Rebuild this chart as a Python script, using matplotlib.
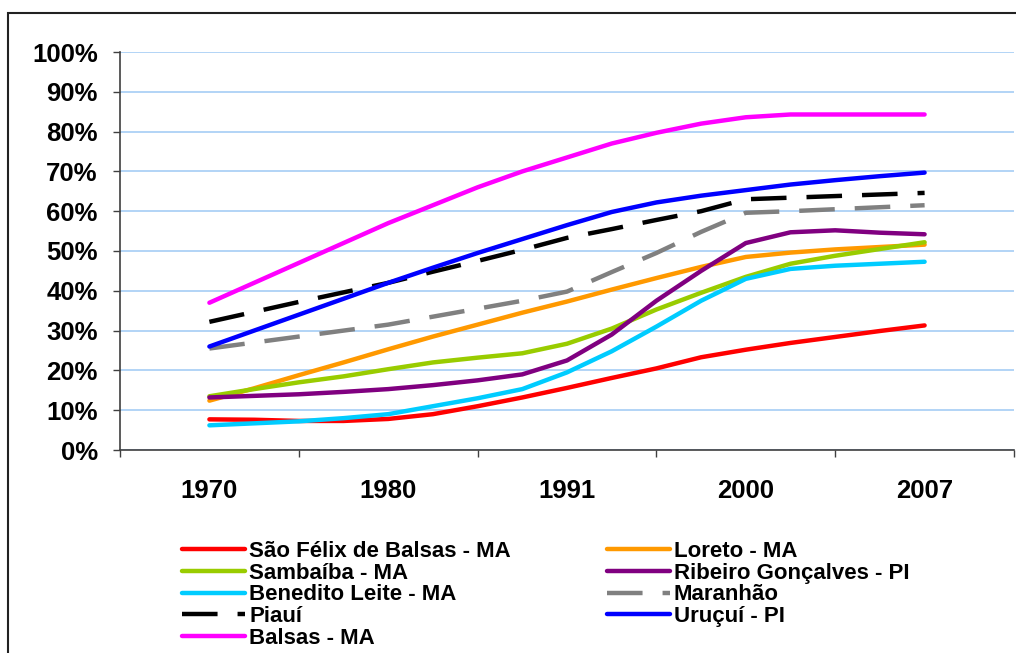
import matplotlib
matplotlib.use("Agg")
import matplotlib.pyplot as plt
import numpy as np
from matplotlib.patches import Rectangle

plt.rcParams["font.family"] = ["Liberation Sans", "DejaVu Sans"]
plt.rcParams["font.weight"] = "bold"

years = ["1970", "1980", "1991", "2000", "2007"]
# the curves are read at every quarter of a category step (17 readings per series)
steps = np.linspace(0, len(years) - 1, 17)

sao_felix = [7.7, 7.6, 7.3, 7.3, 7.8, 9.0, 11.0, 13.2, 15.6, 18.1, 20.5, 23.3, 25.2, 26.9, 28.4, 29.9, 31.3]
loreto = [12.4, 15.5, 18.8, 22.0, 25.3, 28.5, 31.5, 34.5, 37.3, 40.3, 43.2, 46.0, 48.5, 49.6, 50.4, 51.0, 51.6]
sambaiba = [13.5, 15.3, 17.0, 18.5, 20.3, 22.0, 23.2, 24.3, 26.7, 30.5, 35.3, 39.5, 43.5, 46.8, 48.8, 50.5, 52.2]
ribeiro = [13.2, 13.6, 14.0, 14.6, 15.3, 16.3, 17.5, 19.0, 22.5, 29.0, 37.5, 45.0, 52.0, 54.7, 55.2, 54.6, 54.2]
benedito = [6.2, 6.7, 7.2, 8.0, 9.0, 11.0, 13.0, 15.3, 19.5, 24.8, 31.0, 37.5, 43.0, 45.5, 46.3, 46.8, 47.3]
maranhao = [25.5, 27.0, 28.5, 30.0, 31.5, 33.5, 35.5, 37.5, 39.8, 44.7, 49.5, 54.8, 59.6, 60.0, 60.5, 61.0, 61.5]
piaui = [32.2, 34.7, 37.2, 39.6, 42.0, 44.8, 47.5, 50.3, 53.3, 55.5, 57.8, 60.0, 63.0, 63.4, 63.8, 64.2, 64.6]
urucui = [26.0, 30.0, 34.0, 38.0, 42.0, 45.8, 49.5, 53.0, 56.5, 59.8, 62.2, 63.9, 65.3, 66.7, 67.8, 68.8, 69.7]
balsas = [37.0, 42.0, 47.0, 52.0, 57.0, 61.5, 66.0, 70.0, 73.5, 77.0, 79.7, 82.0, 83.6, 84.3, 84.3, 84.3, 84.3]

# drawn in this order, legend reads row by row in the same order
series = [("São Félix de Balsas - MA", sao_felix, "#FF0000", "-"),
          ("Loreto - MA", loreto, "#FF9900", "-"),
          ("Sambaíba - MA", sambaiba, "#99CC00", "-"),
          ("Ribeiro Gonçalves - PI", ribeiro, "#800080", "-"),
          ("Benedito Leite - MA", benedito, "#00CCFF", "-"),
          ("Maranhão", maranhao, "#808080", "--"),
          ("Piauí", piaui, "#000000", "--"),
          ("Uruçuí - PI", urucui, "#0000FF", "-"),
          ("Balsas - MA", balsas, "#FF00FF", "-")]

fig = plt.figure(figsize=(10.16, 6.53), dpi=100)
ax = fig.add_axes([120 / 1016, 1 - 450 / 653, 894 / 1016, 398 / 653])

handles = {}
for label, values, color, style in series:
    line, = ax.plot(steps, values, color=color, lw=3.2, linestyle=style,
                    solid_capstyle="round", dash_capstyle="butt", label=label)
    if style == "--":
        line.set_dashes((8, 4.5))
    handles[label] = line

ax.set_xlim(-0.5, len(years) - 0.5)
ax.set_ylim(0, 100)

ax.set_yticks(np.arange(0, 101, 10))
ax.set_yticklabels([f"{v}%" for v in range(0, 101, 10)], fontsize=18.5, fontweight="bold")
ax.yaxis.grid(True, color="#A6CDF5", lw=1.2)
ax.set_axisbelow(True)

ax.set_xticks(np.arange(-0.5, len(years), 1))
ax.set_xticklabels([])
ax.set_xticks(range(len(years)), minor=True)
ax.set_xticklabels(years, minor=True, fontsize=18.5, fontweight="bold")
ax.tick_params(axis="x", which="major", direction="out", length=5, width=1, color="#404040")
ax.tick_params(axis="x", which="minor", length=0, pad=21)
ax.tick_params(axis="y", direction="out", length=5, width=1, color="#404040", pad=11)

for side in ("top", "right"):
    ax.spines[side].set_visible(False)
for side in ("left", "bottom"):
    ax.spines[side].set_color("#404040")
    ax.spines[side].set_linewidth(1.2)

order = ["São Félix de Balsas - MA", "Sambaíba - MA", "Benedito Leite - MA", "Piauí", "Balsas - MA",
         "Loreto - MA", "Ribeiro Gonçalves - PI", "Maranhão", "Uruçuí - PI"]
fig.legend([handles[k] for k in order], order, ncol=2, frameon=False,
           loc="upper left", bbox_to_anchor=(182 / 1016, 1 - 541 / 653),
           prop={"size": 16, "weight": "bold"}, handlelength=2.85, handletextpad=0.18,
           labelspacing=0.03, columnspacing=4.3, borderpad=0, borderaxespad=0)

fig.patches.append(Rectangle((8 / 1016, -0.05), 1.1, 1.05 - 13 / 653, transform=fig.transFigure,
                             fill=False, edgecolor="#222222", lw=1.5))

fig.savefig("out.png", dpi=100)
